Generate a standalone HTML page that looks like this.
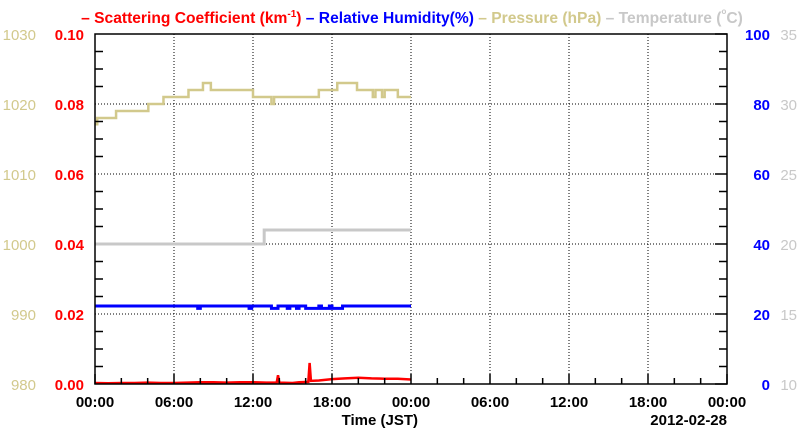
<!DOCTYPE html>
<html><head><meta charset="utf-8"><style>
body{margin:0;background:#fff;}
svg{display:block;font-family:"Liberation Sans",Arial,sans-serif;font-weight:bold;}
</style></head><body>
<svg id="chart" width="800" height="434" viewBox="0 0 800 434">
<text x="412" y="23" text-anchor="middle" font-size="15.6"><tspan fill="#ff0000">– Scattering Coefficient (km</tspan><tspan fill="#ff0000" font-size="10" dy="-6">-1</tspan><tspan fill="#ff0000" dy="6">)</tspan><tspan fill="#0000ff"> – Relative Humidity(%)</tspan><tspan fill="#d2c98c"> – Pressure (hPa)</tspan><tspan fill="#c8c8c8"> – Temperature (</tspan><tspan fill="#c8c8c8" font-size="8" dy="-9">o</tspan><tspan fill="#c8c8c8" dy="9">C)</tspan></text>
<g id="grid"></g><g id="series"></g><g id="axes"></g>
</svg>
<script>
const xTickLabels=["00:00","06:00","12:00","18:00","00:00","06:00","12:00","18:00","00:00"];
const scatTicks=["0.00","0.02","0.04","0.06","0.08","0.10"];
const pressTicks=["980","990","1000","1010","1020","1030"];
const rhTicks=["0","20","40","60","80","100"];
const tempTicks=["10","15","20","25","30","35"];
const pressHours=[0,0.17,1.6,4.05,5.2,7.1,8.2,8.8,12.0,13.4,13.6,17.0,18.4,19.9,21.1,21.3,21.8,22.0,23.0,24];
const pressVals=[1017.1,1018,1019,1020,1021,1022,1023,1022,1021,1020,1021,1022,1023,1022,1021,1022,1021,1022,1021,1021];
const tempHours=[0,12.85,24];
const tempVals=[20,21,21];
const rhHours=[0,7.8,8.0,11.7,11.9,13.4,13.9,14.6,14.8,15.3,15.5,16.0,17.0,17.2,17.8,18.0,18.8,24];
const rhVals=[22.3,21.6,22.3,21.6,22.3,21.6,22.3,21.6,22.3,21.6,22.3,21.6,22.3,21.6,22.3,21.6,22.3,22.3];
const scatHours=[0,1,2,3,4,5,6,7,8,9,10,11,12,13,13.8,13.9,14,15,15.5,16.2,16.3,16.4,17,18,19,20,21,22,23,24];
const scatVals=[0.0003,0.0002,0.0003,0.0003,0.0004,0.0003,0.0003,0.0004,0.0005,0.0005,0.0004,0.0005,0.0005,0.0004,0.0004,0.0025,0.0004,0.0003,0.0005,0.0006,0.006,0.0009,0.001,0.0014,0.0016,0.0018,0.0016,0.0015,0.0015,0.0013];

const L=95,R=727,T=34,B=384;
const xS=h=>L+(R-L)*h/48;
const yScat=v=>B-(B-T)*v/0.10;
const yPress=v=>B-(B-T)*(v-980)/50;
const yRH=v=>B-(B-T)*v/100;
const yTemp=v=>B-(B-T)*(v-10)/25;
const NS="http://www.w3.org/2000/svg";
function mk(tag,parent,attrs){const e=document.createElementNS(NS,tag);for(const k in attrs)e.setAttribute(k,attrs[k]);parent.appendChild(e);return e;}
const grid=document.getElementById('grid'),axes=document.getElementById('axes'),ser=document.getElementById('series');
for(let i=1;i<8;i++){const g=mk('line',grid,{x1:xS(i*6),x2:xS(i*6),y1:T,y2:B,stroke:'#000','stroke-width':1,'stroke-dasharray':'1,2'});

}
for(let i=1;i<5;i++){const y=B-(B-T)*i/5;const g=mk('line',grid,{x1:L,x2:R,y1:y,y2:y,stroke:'#000','stroke-width':1,'stroke-dasharray':'1,2'});

}
const frame=mk('rect',axes,{x:L,y:T,width:R-L,height:B-T,fill:'none',stroke:'#000','stroke-width':1.5});


for(let i=0;i<=20;i++){const y=B-(B-T)*i/20;const len=i%4===0?12:8;
const t1=mk('line',axes,{x1:L,x2:L+(i%4===0?0:len),y1:y,y2:y,stroke:'#000','stroke-width':1.5});


const t2=mk('line',axes,{x1:R,x2:R-len,y1:y,y2:y,stroke:'#000','stroke-width':1.5});

}
for(let i=0;i<=24;i++){const x=xS(i*2);const t=mk('line',axes,{x1:x,x2:x,y1:B,y2:B-(i%3===0?10:6),stroke:'#000','stroke-width':1.5});

}
xTickLabels.forEach((s,i)=>{const t=mk('text',axes,{x:xS(i*6),y:407,'text-anchor':'middle','font-size':15,fill:'#000'});t.textContent=s;

});
function yl(arr,x,anchor,color,name){arr.forEach((s,i)=>{const y=B-(B-T)*i/5+6;const t=mk('text',axes,{x:x,y:y,'text-anchor':anchor,'font-size':15,fill:color,'font-weight':name==='pressure-tick-label'||name==='temperature-tick-label'?'normal':'bold'});t.textContent=s;

});}
yl(pressTicks,36,'end','#d2c98c','pressure-tick-label');
yl(scatTicks,84,'end','#ff0000','scattering-tick-label');
yl(rhTicks,770,'end','#0000ff','humidity-tick-label');
yl(tempTicks,797,'end','#c8c8c8','temperature-tick-label');
const xt=mk('text',axes,{x:418,y:425,'text-anchor':'end','font-size':15,fill:'#000'});xt.textContent='Time (JST)';


const dt=mk('text',axes,{x:727,y:425,'text-anchor':'end','font-size':15,fill:'#000'});dt.textContent='2012-02-28';


function step(hs,vs,ys){let d='';hs.forEach((h,i)=>{const x=xS(h),y=ys(vs[i]);if(i===0)d='M'+x+','+y;else d+=' H'+x+' V'+y;});return d;}
function line(hs,vs,ys){return hs.map((h,i)=>(i?'L':'M')+xS(h)+','+ys(vs[i])).join(' ');}
const p1=mk('path',ser,{d:step(pressHours,pressVals,yPress),fill:'none',stroke:'#d2c98c','stroke-width':2.5});


const p2=mk('path',ser,{d:step(tempHours,tempVals,yTemp),fill:'none',stroke:'#c8c8c8','stroke-width':3});


const p3=mk('path',ser,{d:step(rhHours,rhVals,yRH),fill:'none',stroke:'#0000ff','stroke-width':3});


const p4=mk('path',ser,{d:line(scatHours,scatVals,yScat),fill:'none',stroke:'#ff0000','stroke-width':2.5});


</script>
</body></html>
